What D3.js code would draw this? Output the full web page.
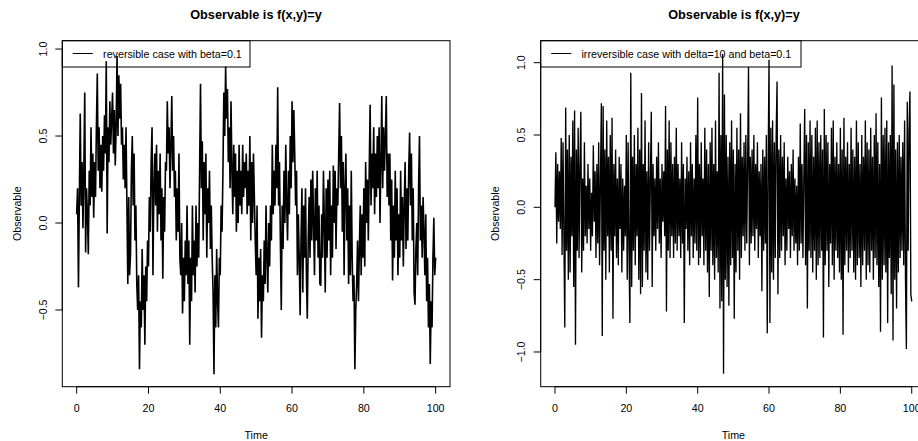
<!DOCTYPE html>
<html>
<head>
<meta charset="utf-8">
<script src="https://cdn.jsdelivr.net/npm/d3@7"></script>
<style>
  html, body { margin: 0; padding: 0; background: #fff; }
  svg { display: block; font-family: "Liberation Sans", Arial, Helvetica, sans-serif; }
</style>
</head>
<body>
<svg id="chart" width="918" height="441"></svg>
<script>
// ---- Data ----
const timeStep = 0.25;               // sampling interval of the series
const xTicks = [0, 20, 40, 60, 80, 100];
const yTicksLeft = [-0.5, 0.0, 0.5, 1.0];
const yTickLabelsLeft = ["-0.5", "0.0", "0.5", "1.0"];
const yTicksRight = [-1.0, -0.5, 0.0, 0.5, 1.0];
const yTickLabelsRight = ["-1.0", "-0.5", "0.0", "0.5", "1.0"];
const titles = ["Observable is f(x,y)=y", "Observable is f(x,y)=y"];
const legendLabels = ["reversible case with beta=0.1", "irreversible case with delta=10 and beta=0.1"];
const xLabel = "Time";
const yLabel = "Observable";

// reversible case, beta=0.1 (one value every 0.25 time units, t = 0..100)
const reversible = [
 0.05, 0.2, -0.37, 0.15,   0.63, 0.1, 0.35, -0.03,   0.3, 0.75, -0.17, 0.2,   0.05, -0.18, 0.3, 0.1,
 0.55, 0.15, 0.4, 0.03,    0.35, 0.15, 0.55, 0.86,   0.3, 0.55, 0.2, 0.45,    0.18, 0.5, 0.3, 0.62,
 0.4, 0.93, -0.06, 0.55,   0.35, 0.7, 0.45, 0.6,     0.75, 0.4, 0.65, 0.33,   0.55, 0.96, 0.5, 0.85,
 0.6, 0.8, 0.45, 0.55,     0.25, 0.45, 0.2, 0.55,    0.1, -0.35, 0.15, -0.3,  -0.18, 0.3, 0.5, 0.1,
 0.4, -0.1, 0.1, -0.35,    -0.5, -0.3, -0.84, -0.45, -0.6, -0.15, -0.5, -0.3, -0.7, -0.25, -0.45, -0.1,
 -0.25, 0.15, -0.05, 0.35, 0.55, -0.3, 0.2, 0.4,     0.1, 0.45, -0.05, 0.3,   0.05, 0.4, -0.1, 0.2,
 -0.32, 0.15, -0.05, 0.35, 0.3, 0.7, 0.4, 0.55,      0.2, 0.45, 0.73, 0.3,    0.5, 0.15, 0.3, -0.1,
 0.2, -0.05, 0.4, -0.2,    -0.3, 0.0, -0.52, -0.2,   -0.45, -0.1, -0.3, 0.1,  -0.35, -0.1, -0.7, -0.2,
 -0.45, 0.1, -0.3, -0.1,   -0.4, 0.1, -0.25, 0.0,    -0.2, 0.3, 0.8, 0.2,     0.47, -0.1, 0.35, 0.05,
 0.4, -0.2, 0.2, 0.0,      0.3, -0.15, 0.1, -0.2,    -0.4, -0.87, -0.3, -0.6, -0.15, -0.45, -0.6, -0.2,
 -0.3, 0.1, -0.05, 0.3,    0.75, 0.5, 0.9, 0.6,      0.77, 0.35, 0.55, 0.2,   0.7, 0.3, 0.05, 0.45,
 0.15, 0.4, -0.05, 0.3,    0.0, 0.45, 0.1, 0.3,      0.05, 0.45, 0.15, 0.35,  0.2, 0.4, 0.05, 0.3,
 0.1, 0.5, -0.1, 0.35,     0.0, 0.4, 0.15, -0.1,     -0.3, 0.1, -0.55, -0.2,  -0.45, -0.15, -0.66, -0.3,
 -0.45, -0.1, -0.35, 0.1,  -0.2, -0.4, 0.0, -0.25,   0.1, -0.1, 0.45, 0.05,   0.3, 0.1, 0.45, 0.2,
 0.78, 0.1, 0.35, -0.1,    -0.5, 0.1, -0.15, 0.3,    0.0, 0.45, 0.1, -0.1,    0.3, 0.05, 0.5, 0.2,
 0.7, 0.35, 0.65, 0.4,     0.1, 0.3, -0.3, 0.05,     -0.2, -0.53, -0.1, 0.2,  -0.4, 0.1, -0.2, 0.2,
 -0.3, -0.55, -0.1, 0.15,  -0.2, 0.25, -0.1, 0.3,    0.0, -0.3, 0.2, -0.1,    0.3, -0.2, 0.1, -0.35,
 -0.36, 0.05, -0.2, 0.3,   0.0, -0.4, 0.2, -0.2,     0.25, -0.1, 0.3, -0.3,   0.1, -0.2, 0.33, 0.0,
 0.3, -0.15, 0.2, 0.1,     0.4, 0.69, 0.2, 0.5,      -0.05, 0.35, -0.3, 0.2,  0.4, -0.1, 0.2, -0.35,
 0.1, -0.3, 0.3, -0.2,     -0.45, -0.3, -0.84, -0.5, -0.35, -0.1, -0.45, -0.15, 0.1, -0.3, 0.05, -0.2,
 0.2, -0.25, 0.35, 0.0,    0.25, -0.1, 0.3, 0.68,    0.1, 0.4, 0.2, 0.55,     0.05, 0.4, 0.15, 0.5,
 0.2, 0.55, 0.0, 0.35,     0.73, 0.2, 0.55, 0.3,     0.5, 0.73, 0.15, 0.4,    0.1, 0.4, -0.1, 0.25,
 -0.33, 0.1, -0.2, 0.3,    -0.1, 0.2, -0.3, 0.05,    -0.2, 0.3, -0.1, 0.15,   -0.25, 0.1, 0.35, -0.15,
 0.2, -0.1, 0.3, 0.52,     0.1, 0.4, -0.1, 0.2,      -0.4, -0.47, -0.15, 0.0, -0.3, 0.2, 0.5, -0.1,
 0.1, -0.2, 0.15, -0.05,   -0.3, 0.05, -0.45, -0.2,  -0.6, -0.35, -0.81, -0.45, -0.6, -0.2, 0.03, -0.3,
 -0.2
];

// irreversible case, delta=10 and beta=0.1 (one value every 0.25 time units, t = 0..100)
const irreversible = [
 0.0, 0.38, -0.25, 0.3,    -0.1, 0.25, -0.15, 0.48,  -0.33, 0.45, -0.2, -0.83, 0.69, -0.3, 0.4, -0.5,
 0.5, -0.45, 0.35, -0.2,   0.6, -0.55, 0.67, -0.95,  0.4, -0.3, 0.55, -0.35,  0.3, 0.66, -0.45, 0.2,
 -0.3, 0.45, -0.2, 0.15,   -0.25, 0.3, -0.15, 0.2,   -0.3, 0.1, -0.2, 0.43,   -0.1, 0.25, -0.35, 0.3,
 -0.25, 0.45, -0.4, 0.2,   0.72, -0.89, 0.7, -0.3,   0.4, -0.5, 0.6, -0.2,    0.35, -0.45, 0.5, -0.3,
 0.62, -0.77, 0.3, -0.2,   0.4, -0.35, 0.2, -0.4,    0.35, -0.15, 0.3, -0.45, 0.2, -0.3, 0.15, -0.2,
 0.5, -0.5, 0.45, -0.3,    -0.8, 0.93, -0.55, 0.35,  -0.3, 0.5, -0.4, 0.3,   -0.2, 0.55, -0.5, 0.4,
 -0.6, 0.79, -0.55, 0.3,   -0.3, 0.6, -0.45, 0.25,   -0.5, 0.45, -0.3, 0.2,   0.66, -0.55, 0.3, -0.2,
 0.2, -0.3, 0.35, -0.15,   0.45, -0.25, 0.2, -0.35,  0.3, -0.1, 0.25, -0.2,   0.7, -0.72, 0.4, -0.3,
 0.6, -0.35, 0.45, -0.2,   0.3, -0.35, 0.35, -0.25,  0.55, -0.3, 0.3, -0.2,   0.2, -0.35, 0.45, -0.25,
 0.3, -0.8, 0.2, -0.15,    0.35, -0.3, 0.25, -0.4,   0.45, -0.2, 0.3, -0.35,  0.2, -0.25, 0.5, -0.3,
 0.76, -0.4, 0.3, -0.35,   0.45, -0.2, 0.2, -0.4,    0.55, -0.3, 0.4, -0.45,  0.3, -0.62, 0.45, -0.3,
 0.55, -0.4, 0.3, -0.5,    0.6, -0.35, 0.25, -0.45,  0.93, -0.7, 0.5, -0.65,  1.06, -1.15, 0.78, -0.5,
 0.5, -0.55, 0.35, -0.68,  0.45, -0.4, 0.6, -0.35,   0.4, -0.77, 0.3, -0.45,  0.55, -0.3, 0.4, -0.5,
 0.65, -0.35, 0.35, -0.2,  0.45, -0.3, 0.5, -0.25,   0.3, 0.97, -0.4, 0.35,   -0.25, 0.4, -0.2, 0.5,
 -0.3, 0.3, -0.15, 0.45,   -0.35, 0.25, -0.2, 0.3,   -0.58, 0.4, -0.3, 0.35,  -0.25, 0.5, -0.87, 0.3,
 1.02, -0.8, 0.55, -0.45,  0.6, -0.5, 0.45, -0.35,   0.5, 0.87, -0.6, 0.4,    -0.35, 0.5, -0.3, 0.35,
 -0.2, 0.45, -0.4, 0.2,    -0.3, 0.35, -0.15, 0.25,  -0.35, 0.3, -0.2, 0.4,   -0.3, 0.2, -0.25, 0.15,
 -0.4, 0.35, -0.3, 0.58,   -0.25, 0.3, -0.35, 0.2,   0.68, -0.4, 0.5, -0.7,   0.45, -0.3, 0.6, -0.35,
 0.5, -0.45, 0.35, -0.3,   0.55, -0.5, 0.6, -0.4,    0.45, -0.35, 0.5, -0.3,  0.4, -0.9, 0.68, -0.4,
 0.5, -0.3, 0.45, -0.55,   0.3, -0.25, 0.55, -0.4,   0.6, -0.5, 0.35, -0.3,   0.45, -0.35, 0.3, -0.45,
 0.55, -0.5, 0.4, -0.88,   0.62, -0.4, 0.35, -0.3,   0.45, -0.45, 0.3, -0.35, 0.55, -0.3, 0.4, -0.45,
 0.35, -0.5, 0.6, -0.4,    0.45, -0.35, 0.3, -0.55,  0.5, -0.4, 0.35, -0.3,   0.6, -0.5, 0.45, -0.4,
 0.4, -0.45, 0.55, -0.3,   0.35, -0.5, 0.5, -0.35,   0.65, -0.4, 0.45, -0.55, 0.3, -0.86, 0.76, -0.5,
 0.5, -0.4, 0.55, -0.45,   0.6, -0.8, 0.45, -0.35,   0.5, -0.6, 0.98, -0.92,  0.85, -0.5, 0.4, -0.7,
 0.45, -0.45, 0.5, -0.35,  0.35, -0.3, 0.45, -0.4,   0.6, -0.5, -0.98, 0.73,  -0.3, 0.55, 0.8, -0.6,
 -0.65
];

// ---- Drawing ----
const svg = d3.select("#chart");
const FS = 10.7, FS_TITLE = 12.7;

const panels = [
  { data: reversible, left: 62.3, right: 450, top: 40.7, bottom: 386.7,
    yDomain: [-0.941, 1.048], yTicks: yTicksLeft, yLabels: yTickLabelsLeft,
    title: titles[0], legend: legendLabels[0], legendRight: 250,
    tickLabelX: 46.5, yLabelX: 20.5, titleX: 256, strokeW: 1.6 },
  { data: irreversible, left: 540.7, right: 926, top: 40.7, bottom: 386.7,
    yDomain: [-1.24, 1.152], yTicks: yTicksRight, yLabels: yTickLabelsRight,
    title: titles[1], legend: legendLabels[1], legendRight: 801,
    tickLabelX: 524.5, yLabelX: 498.5, titleX: 734, strokeW: 1.35 }
];

panels.forEach(p => {
  const g = svg.append("g");
  const x = d3.scaleLinear().domain([-4, 104]).range([p.left, p.right]);
  const y = d3.scaleLinear().domain(p.yDomain).range([p.bottom, p.top]);

  // title
  g.append("text").attr("x", p.titleX).attr("y", 18.5)
    .attr("text-anchor", "middle").attr("font-weight", "bold")
    .attr("font-size", FS_TITLE).text(p.title);

  // x axis (line spans first to last tick, like R)
  const xa = g.append("g");
  xa.append("line").attr("x1", x(xTicks[0])).attr("x2", x(xTicks[xTicks.length - 1]))
    .attr("y1", p.bottom).attr("y2", p.bottom).attr("stroke", "#000");
  xTicks.forEach(t => {
    xa.append("line").attr("x1", x(t)).attr("x2", x(t))
      .attr("y1", p.bottom).attr("y2", p.bottom + 7).attr("stroke", "#000");
    xa.append("text").attr("x", x(t)).attr("y", 411.5).attr("text-anchor", "middle")
      .attr("font-size", FS).attr("fill", "#000").text(t);
  });
  g.append("text").attr("x", (x(0) + x(100)) / 2).attr("y", 438.5)
    .attr("text-anchor", "middle").attr("font-size", FS).text(xLabel);

  // y axis
  const ya = g.append("g");
  ya.append("line").attr("x1", p.left).attr("x2", p.left)
    .attr("y1", y(p.yTicks[0])).attr("y2", y(p.yTicks[p.yTicks.length - 1])).attr("stroke", "#000");
  p.yTicks.forEach((t, i) => {
    ya.append("line").attr("x1", p.left - 7).attr("x2", p.left)
      .attr("y1", y(t)).attr("y2", y(t)).attr("stroke", "#000");
    ya.append("text")
      .attr("transform", `translate(${p.tickLabelX},${y(t)}) rotate(-90)`)
      .attr("text-anchor", "middle").attr("font-size", FS).text(p.yLabels[i].replace("-", "\u2212"));
  });
  g.append("text")
    .attr("transform", `translate(${p.yLabelX},${(p.top + p.bottom) / 2}) rotate(-90)`)
    .attr("text-anchor", "middle").attr("font-size", FS).text(yLabel);

  // legend (drawn before the series, transparent)
  g.append("rect").attr("x", p.left).attr("y", p.top)
    .attr("width", p.legendRight - p.left).attr("height", 67 - p.top)
    .attr("fill", "none").attr("stroke", "#000").attr("stroke-width", 1);
  g.append("line").attr("x1", p.left + 10.5).attr("x2", p.left + 30.5)
    .attr("y1", 53.5).attr("y2", 53.5).attr("stroke", "#000");
  g.append("text").attr("x", p.left + 40.8).attr("y", 57.5)
    .attr("font-size", FS).text(p.legend);

  // series
  const line = d3.line()
    .x((d, i) => x(i * timeStep))
    .y(d => y(d));
  g.append("path").datum(p.data).attr("d", line)
    .attr("fill", "none").attr("stroke", "#000").attr("stroke-width", p.strokeW)
    .attr("stroke-linejoin", "miter").attr("stroke-miterlimit", 2);

  // plot box
  g.append("rect").attr("x", p.left).attr("y", p.top)
    .attr("width", p.right - p.left).attr("height", p.bottom - p.top)
    .attr("fill", "none").attr("stroke", "#000").attr("stroke-width", 1);
});
</script>
</body>
</html>
